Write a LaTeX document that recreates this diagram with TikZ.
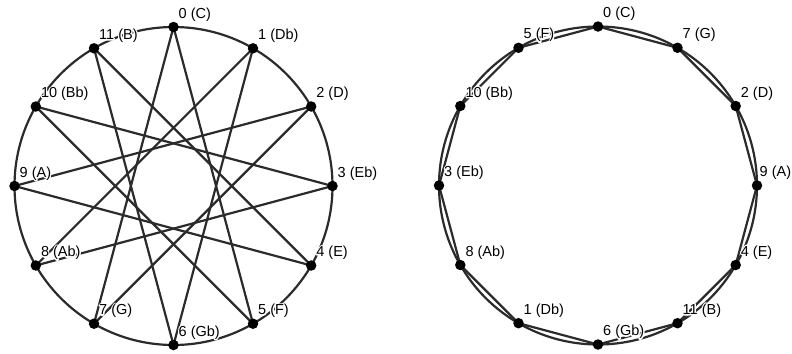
\documentclass[tikz,border=0pt]{standalone}
\usepackage{fontspec}
\setmainfont{Liberation Sans}
\usetikzlibrary{calc}
\definecolor{linec}{HTML}{2B2B2B}
\newcommand\halo[1]{\makebox[0pt][l]{\color{white}\special{pdf:literal direct 1 Tr 2.6 w 1 J 1 j}#1\special{pdf:literal direct 0 Tr}}#1}
\tikzset{
  ring/.style={draw=linec, line width=2.2bp},
  edge/.style={draw=linec, line width=2.2bp},
  dot/.style={circle, fill=black, inner sep=0pt, minimum size=10.5bp},
  lab/.style={anchor=base west, inner sep=0pt, xshift=5bp, yshift=9bp,
    font=\fontsize{14.5bp}{17bp}\selectfont, text=black}
}
\begin{document}
\begin{tikzpicture}[x=1bp,y=-1bp]
\useasboundingbox (0,0) rectangle (792,353);
% left: chromatic circle with star of fifths
\coordinate (LC) at (173.5,186);
\draw[ring] (LC) circle (159);
\foreach \k in {0,...,11}{
  \coordinate (L\k) at ({173.5+159*sin(30*\k)},{186-159*cos(30*\k)});
}
\foreach \k in {0,...,11}{
  \pgfmathtruncatemacro{\m}{mod(\k+5,12)}
  \draw[edge] (L\k) -- (L\m);
}
\foreach \k in {0,...,11}{ \node[dot] (dL\k) at (L\k) {}; }
\foreach \k/\t in {0/0 (C),1/1 (Db),2/2 (D),3/3 (Eb),4/4 (E),5/5 (F),6/6 (Gb),7/7 (G),8/8 (Ab),9/9 (A),10/10 (Bb),11/11 (B)}{
  \node[lab] (tL\k) at (L\k) {\halo{\t}};
}
% right: circle of fifths
\coordinate (RC) at (598,185.5);
\draw[ring] (RC) circle (159);
\foreach \k in {0,...,11}{
  \coordinate (R\k) at ({598+159*sin(30*\k)},{185.5-159*cos(30*\k)});
}
\foreach \k in {0,...,11}{
  \pgfmathtruncatemacro{\m}{mod(\k+1,12)}
  \draw[edge] (R\k) -- (R\m);
}
\foreach \k in {0,...,11}{ \node[dot] (dR\k) at (R\k) {}; }
\foreach \k/\t/\dx in {0/0 (C)/0,1/7 (G)/0,2/2 (D)/0,3/9 (A)/-2.5,4/4 (E)/0,5/11 (B)/0,6/6 (Gb)/0,7/1 (Db)/0,8/8 (Ab)/0,9/3 (Eb)/0,10/10 (Bb)/0,11/5 (F)/0}{
  \node[lab, xshift=\dx bp] (tR\k) at (R\k) {\halo{\t}};
}
\end{tikzpicture}
\end{document}
